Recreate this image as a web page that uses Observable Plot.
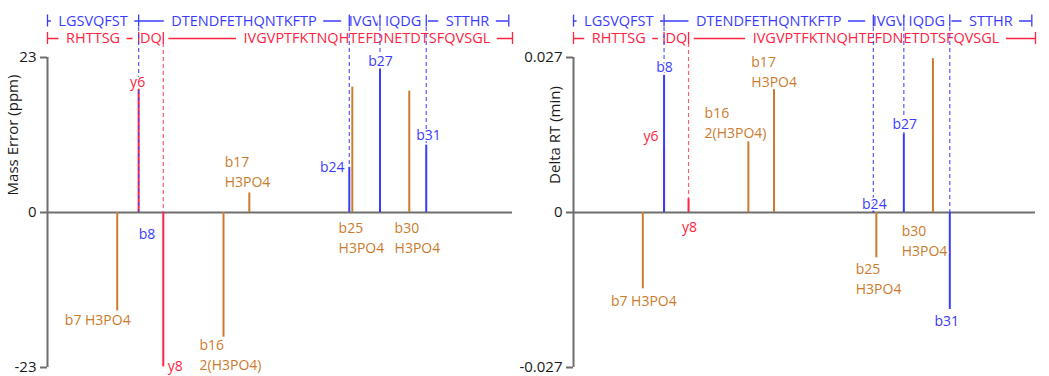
<!DOCTYPE html>
<html><head><meta charset="utf-8">
<script src="https://cdn.jsdelivr.net/npm/d3@7"></script>
<script src="https://cdn.jsdelivr.net/npm/@observablehq/plot@0.6"></script>
<style>
body{margin:0;background:#fff}
#wrap{display:flex;width:1049px;height:376px;overflow:hidden}
</style>
</head><body><div id="wrap"></div>
<script>
// ---- data ----
const ionLabels = ["b7 H3PO4","y6","b8","y8","b16\n2(H3PO4)","b17\nH3PO4","b24","b25\nH3PO4","b27","b30\nH3PO4","b31"];
const ionSeries = ["loss","y","b","y","loss","loss","b","loss","b","loss","b"];
const ionPosition = [15.0,19.6,19.6,24.9,37.85,43.4,64.9,65.55,71.5,77.8,81.45];
const massErrorPpm = [-14.6,18.3,0,-22.9,-18.5,2.9,6.7,18.6,21.3,18.0,10.0];
const deltaRtMin = [-0.0133,0.011,0.0239,0.0024,0.0123,0.0214,0.0003,-0.0079,0.0137,0.0268,-0.0169];

const bFragments = ["LGSVQFST","DTENDFETHQNTKFTP","IVGV","IQDG","STTHR"];
const bCuts = [0,19.6,64.9,71.5,81.45,99.2];
const yFragments = ["RHTTSG","DQ","IVGVPTFKTNQHTEFDNETDTSFQVSGL"];
const yCuts = [0,19.6,24.9,100];

const massTicks = [-23,0,23];
const rtTicks = [-0.027,0,0.027];

// ---- styling ----
const COLORS = {b:"#3b3bff", y:"#ff2442", loss:"#cc7b2c"};
const AXIS = "#6e6e6e";
const FONT = "'Open Sans', 'Noto Sans', sans-serif";
const ROW_FONT = 14.5;
const BLUE_DY = -36.5, RED_DY = -19;

// label placement per ion: [textAnchor, dx, dy, anchoredAtZero]
const leftLayout = [
  ["middle",-19.5,8,false],["middle",-1,-9,false],["start",0,20,true],["start",4.5,-2,false],
  ["start",-24,16.5,false],["start",-24.6,-22.7,false],["end",-4.7,-2,false],["start",-13.7,24.4,true],
  ["middle",0.6,-9.3,false],["start",-14.7,24.4,true],["middle",2.3,-12,false]
];
const rightLayout = [
  ["middle",1,10.7,false],["end",-5.5,-15,false],["middle",0.5,-10,false],["middle",1,13,true],
  ["start",-43.8,-20,false],["start",-22.7,-18.6,false],["middle",1,-10,true],["start",-20.6,19.7,false],
  ["middle",1,-11.6,false],["start",-31.2,27,true],["middle",-3,10,false]
];

const ions = ionLabels.map((label,i)=>({label, series:ionSeries[i], pos:ionPosition[i], mass:massErrorPpm[i], rt:deltaRtMin[i]}));

const ctx = document.createElement("canvas").getContext("2d");
ctx.font = `${ROW_FONT}px 'Open Sans'`;
function segs(frags, cuts, yTop){
  return frags.map((t,i)=>({text:t, x1:cuts[i], x2:cuts[i+1], mid:(cuts[i]+cuts[i+1])/2, w:ctx.measureText(t).width, i, yTop}));
}

// sequence row: line, white gap behind each fragment name, the name, boundary ticks
function sequenceRow(data, cuts, dy, color, shift, yTop){
  const top = () => yTop;
  const gap = 7;
  const marks = [Plot.ruleY(data, {y:top, x1:"x1", x2:"x2", dy, stroke:color, strokeWidth:1.3})];
  data.forEach(d => {
    const dx = shift[d.i] || 0, half = d.w/2 + gap;
    marks.push(Plot.rect([d], {x1:"mid", x2:"mid", y1:top, y2:top, dx, dy, fill:"white",
      insetLeft:-half, insetRight:-half, insetTop:-3, insetBottom:-3}));
    marks.push(Plot.text([d], {x:"mid", y:top, dx, dy, text:"text", fill:color, fontSize:ROW_FONT}));
  });
  marks.push(Plot.ruleX(cuts, {x:d=>d, y1:top, y2:top, insetTop:-6, insetBottom:-6, dy, stroke:color, strokeWidth:1.3}));
  return marks;
}

function panel({key, ticks, title, width, marginLeft, marginRight, layout, titleDx, yShift}){
  const yTop = d3.max(ticks);
  const rows = ions.map(d=>({...d, v:d[key]}));
  const top = () => yTop;
  const bSegs = segs(bFragments,bCuts,yTop), ySegs = segs(yFragments,yCuts,yTop);
  const guides = rows.filter(d => d.series !== "loss" && !(d.series === "y" && rows.some(e => e.series === "b" && e.pos === d.pos)));
  const marks = [
    Plot.ruleY([0], {stroke:AXIS, strokeWidth:2, insetLeft:-7}),
    Plot.ruleX([0], {y1:-yTop, y2:yTop, stroke:AXIS, strokeWidth:2}),
    Plot.ruleY([-yTop, yTop], {x1:0, x2:0, insetLeft:-7, stroke:AXIS, strokeWidth:2}),
    Plot.ruleX(rows, {x:"pos", y1:0, y2:"v", stroke:d=>COLORS[d.series], strokeWidth:2}),
    ...sequenceRow(ySegs, yCuts, RED_DY, COLORS.y, yShift, yTop),
    ...sequenceRow(bSegs, bCuts, BLUE_DY, COLORS.b, [], yTop),
    // dashed guides from sequence to fragment
    Plot.ruleX(guides.filter(d=>d.series==="y"), {x:"pos", y1:top, y2:d=>Math.max(d.v,0), insetTop:-14, stroke:COLORS.y, strokeWidth:1.2, strokeOpacity:0.75, strokeDasharray:"4,3"}),
    Plot.ruleX(guides.filter(d=>d.series==="b"), {x:"pos", y1:top, y2:d=>Math.max(d.v,0), insetTop:-30, stroke:COLORS.b, strokeWidth:1.2, strokeOpacity:0.85, strokeDasharray:"4,3"}),
    // axis title
    Plot.text([title], {frameAnchor:"left", y:()=>yTop/2, text:d=>d, rotate:-90, dx:titleDx, fontSize:15, fill:"#1a1a1a", textAnchor:"middle"})
  ];
  rows.forEach((d,i)=>{
    const [anchor,dx,dy,atZero] = layout[i];
    marks.push(Plot.text([d], {x:"pos", y:r=>atZero?0:r.v, text:"label", textAnchor:anchor, dx, dy,
      fill:COLORS[d.series], stroke:"white", strokeWidth:3, strokeLinejoin:"round", paintOrder:"stroke",
      fontSize:14, lineHeight:1.43}));
  });
  return Plot.plot({
    width, height:376, marginTop:57, marginBottom:9, marginLeft, marginRight,
    x:{domain:[0,100], axis:null},
    y:{domain:[-yTop,yTop], ticks, tickSize:0, tickPadding:11, tickFormat:d=>String(d), label:null},
    color:{type:"identity"},
    style:{fontFamily:FONT, fontSize:"15px", color:"#1a1a1a", background:"white", overflow:"visible"},
    marks
  });
}

const wrap = document.getElementById("wrap");
wrap.appendChild(panel({key:"mass", ticks:massTicks, title:"Mass Error (ppm)", width:520, marginLeft:47, marginRight:8, layout:leftLayout, titleDx:-34, yShift:[0,0,29]}));
wrap.appendChild(panel({key:"rt", ticks:rtTicks, title:"Delta RT (min)", width:529, marginLeft:53, marginRight:14, layout:rightLayout, titleDx:-18, yShift:[0,0,14]}));
</script>
</body></html>
